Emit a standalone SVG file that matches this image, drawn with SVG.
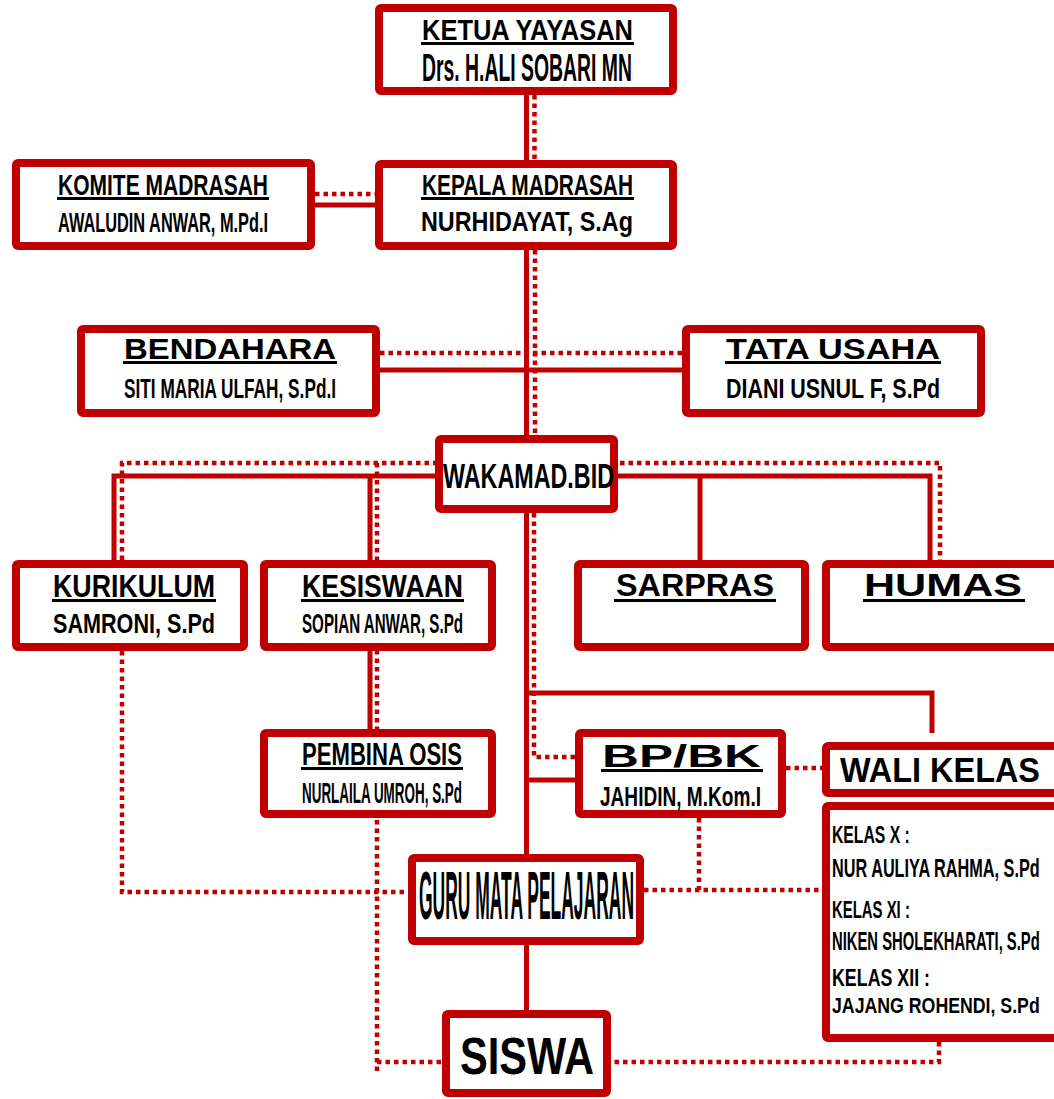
<svg xmlns="http://www.w3.org/2000/svg" width="1054" height="1099" viewBox="0 0 1054 1099">
<style>
.box{fill:#fff;stroke:#C00000;stroke-width:8;rx:2}
.sol{fill:none;stroke:#C00000;stroke-width:5}
.dot{fill:none;stroke:#C00000;stroke-width:4.5;stroke-dasharray:4.5 4}
text{font-family:"Liberation Sans",Arial,sans-serif;font-weight:bold;fill:#000}
.ul{fill:#000}
</style>
<rect width="1054" height="1099" fill="#fff"/>
<g id="connectors">
  <path class="sol" d="M526.5 95V1010"/>
  <path class="sol" d="M315 205H375"/>
  <path class="sol" d="M380 370H682"/>
  <path class="sol" d="M114 560V476H930V560M370 476V729M700 476V560"/>
  <path class="sol" d="M526 693H932V733"/>
  <path class="sol" d="M526 780H575"/>
  <path class="dot" d="M534.5 95V160"/>
  <path class="dot" d="M315 194H375"/>
  <path class="dot" d="M535 250V435"/>
  <path class="dot" d="M380 353H682"/>
  <path class="dot" d="M122 560V463H940V560M377 463V1073"/>
  <path class="dot" d="M534 513V757H575"/>
  <path class="dot" d="M786 768H822"/>
  <path class="dot" d="M122 651V892H408"/>
  <path class="dot" d="M377 1062H442"/>
  <path class="dot" d="M644 890H822M699 818V890"/>
  <path class="dot" d="M939 1042V1062H611"/>
</g>
<g id="ketua">
  <rect class="box" x="379" y="8" width="294" height="83"/>
  <text x="422" y="40" font-size="30" textLength="211" lengthAdjust="spacingAndGlyphs">KETUA YAYASAN</text>
  <rect class="ul" x="421" y="42" width="213" height="3"/>
  <text x="422" y="81" font-size="38" textLength="210" lengthAdjust="spacingAndGlyphs">Drs. H.ALI SOBARI MN</text>
</g>
<g id="kepala">
  <rect class="box" x="379" y="164" width="294" height="82"/>
  <text x="422" y="195" font-size="30" textLength="211" lengthAdjust="spacingAndGlyphs">KEPALA MADRASAH</text>
  <rect class="ul" x="421" y="197" width="213" height="3"/>
  <text x="421" y="231" font-size="28" textLength="212" lengthAdjust="spacingAndGlyphs">NURHIDAYAT, S.Ag</text>
</g>
<g id="komite">
  <rect class="box" x="16" y="163" width="295" height="83"/>
  <text x="58" y="195" font-size="30" textLength="210" lengthAdjust="spacingAndGlyphs">KOMITE MADRASAH</text>
  <rect class="ul" x="57" y="197" width="212" height="3"/>
  <text x="58" y="232" font-size="28" textLength="210" lengthAdjust="spacingAndGlyphs">AWALUDIN ANWAR, M.Pd.I</text>
</g>
<g id="bendahara">
  <rect class="box" x="81" y="329" width="295" height="84"/>
  <text x="124" y="359" font-size="30" textLength="212" lengthAdjust="spacingAndGlyphs">BENDAHARA</text>
  <rect class="ul" x="123" y="361" width="214" height="3"/>
  <text x="124" y="398" font-size="28" textLength="212" lengthAdjust="spacingAndGlyphs">SITI MARIA ULFAH, S.Pd.I</text>
</g>
<g id="tatausaha">
  <rect class="box" x="686" y="329" width="295" height="84"/>
  <text x="726" y="359" font-size="30" textLength="214" lengthAdjust="spacingAndGlyphs">TATA USAHA</text>
  <rect class="ul" x="725" y="361" width="216" height="3"/>
  <text x="726" y="398" font-size="28" textLength="214" lengthAdjust="spacingAndGlyphs">DIANI USNUL F, S.Pd</text>
</g>
<g id="wakamad">
  <rect class="box" x="439" y="439" width="175" height="70"/>
  <text x="443" y="488" font-size="35" textLength="171" lengthAdjust="spacingAndGlyphs">WAKAMAD.BID</text>
</g>
<g id="kurikulum">
  <rect class="box" x="16" y="564" width="228" height="83"/>
  <text x="53" y="597" font-size="31" textLength="162" lengthAdjust="spacingAndGlyphs">KURIKULUM</text>
  <rect class="ul" x="52" y="599" width="164" height="3"/>
  <text x="53" y="633" font-size="28" textLength="162" lengthAdjust="spacingAndGlyphs">SAMRONI, S.Pd</text>
</g>
<g id="kesiswaan">
  <rect class="box" x="264" y="564" width="228" height="83"/>
  <text x="302" y="597" font-size="31" textLength="161" lengthAdjust="spacingAndGlyphs">KESISWAAN</text>
  <rect class="ul" x="301" y="599" width="163" height="3"/>
  <text x="302" y="633" font-size="28" textLength="161" lengthAdjust="spacingAndGlyphs">SOPIAN ANWAR, S.Pd</text>
</g>
<g id="sarpras">
  <rect class="box" x="578" y="564" width="227" height="83"/>
  <text x="616" y="596" font-size="32" textLength="158" lengthAdjust="spacingAndGlyphs">SARPRAS</text>
  <rect class="ul" x="614" y="599" width="162" height="3"/>
</g>
<g id="humas">
  <rect class="box" x="826" y="564" width="240" height="83"/>
  <text x="864" y="596" font-size="32" textLength="158" lengthAdjust="spacingAndGlyphs">HUMAS</text>
  <rect class="ul" x="863" y="599" width="162" height="3"/>
</g>
<g id="pembina">
  <rect class="box" x="264" y="733" width="228" height="81"/>
  <text x="302" y="765" font-size="31" textLength="160" lengthAdjust="spacingAndGlyphs">PEMBINA OSIS</text>
  <rect class="ul" x="301" y="767" width="162" height="3"/>
  <text x="302" y="803" font-size="29" textLength="160" lengthAdjust="spacingAndGlyphs">NURLAILA UMROH, S.Pd</text>
</g>
<g id="bpbk">
  <rect class="box" x="579" y="733" width="203" height="81"/>
  <text x="602" y="767" font-size="31" textLength="159" lengthAdjust="spacingAndGlyphs">BP/BK</text>
  <rect class="ul" x="601" y="769" width="162" height="3"/>
  <text x="600" y="806" font-size="28" textLength="161" lengthAdjust="spacingAndGlyphs">JAHIDIN, M.Kom.I</text>
</g>
<g id="walikelas">
  <rect class="box" x="826" y="746" width="240" height="47"/>
  <text x="840" y="782" font-size="35" textLength="200" lengthAdjust="spacingAndGlyphs">WALI KELAS</text>
</g>
<g id="kelas">
  <rect class="box" x="826" y="806" width="240" height="232"/>
  <text transform="translate(832,843) scale(0.56,1)" font-size="24" textLength="139" lengthAdjust="spacingAndGlyphs">KELAS X :</text>
  <text transform="translate(832,877) scale(0.56,1)" font-size="25" textLength="371" lengthAdjust="spacingAndGlyphs">NUR AULIYA RAHMA, S.Pd</text>
  <text transform="translate(832,918) scale(0.56,1)" font-size="24" textLength="139" lengthAdjust="spacingAndGlyphs">KELAS XI :</text>
  <text transform="translate(832,950) scale(0.56,1)" font-size="25" textLength="371" lengthAdjust="spacingAndGlyphs">NIKEN SHOLEKHARATI, S.Pd</text>
  <text transform="translate(832,986) scale(0.56,1)" font-size="23" textLength="175" lengthAdjust="spacingAndGlyphs">KELAS XII :</text>
  <text transform="translate(832,1013) scale(0.56,1)" font-size="22" textLength="371" lengthAdjust="spacingAndGlyphs">JAJANG ROHENDI, S.Pd</text>
</g>
<g id="guru">
  <rect class="box" x="412" y="858" width="228" height="83"/>
  <text x="419" y="919" font-size="68" textLength="215" lengthAdjust="spacingAndGlyphs">GURU MATA PELAJARAN</text>
</g>
<g id="siswa">
  <rect class="box" x="446" y="1014" width="161" height="79"/>
  <text x="460" y="1074" font-size="52" textLength="134" lengthAdjust="spacingAndGlyphs">SISWA</text>
</g>
</svg>
